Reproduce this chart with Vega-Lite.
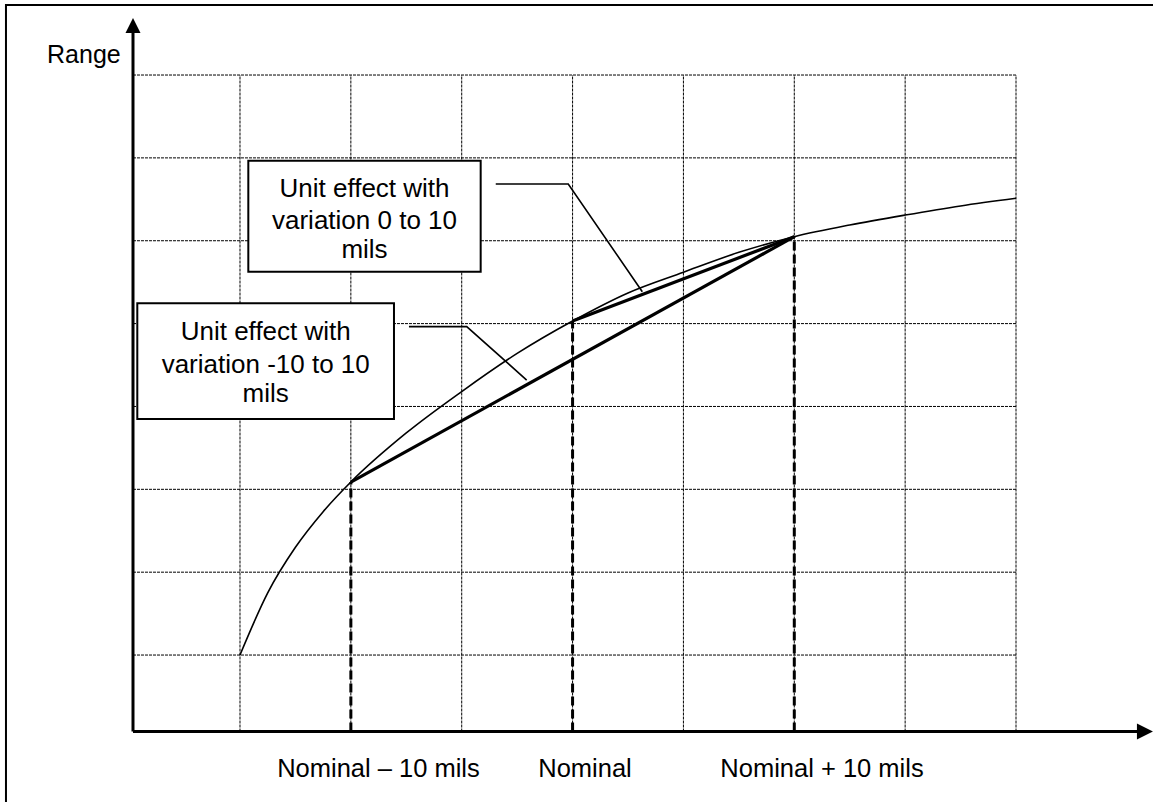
{
  "$schema": "https://vega.github.io/schema/vega-lite/v6.json",
  "width": 1153,
  "height": 802,
  "autosize": {"type": "none"},
  "padding": 0,
  "background": "white",
  "config": {"view": {"stroke": null}},
  "datasets": {
    "border": [{"x": -1.111, "y": 8.845, "x2": 10.5, "y2": -1.5}],
    "grid": [
      {"x": 1, "y": 0.077, "x2": 1, "y2": 8},
      {"x": 2, "y": 0.077, "x2": 2, "y2": 8},
      {"x": 3, "y": 0.077, "x2": 3, "y2": 8},
      {"x": 4, "y": 0.077, "x2": 4, "y2": 8},
      {"x": 5, "y": 0.077, "x2": 5, "y2": 8},
      {"x": 6, "y": 0.077, "x2": 6, "y2": 8},
      {"x": 7, "y": 0.077, "x2": 7, "y2": 8},
      {"x": 8, "y": 0.077, "x2": 8, "y2": 8},
      {"x": 0.0348, "y": 1, "x2": 8, "y2": 1},
      {"x": 0.0348, "y": 2, "x2": 8, "y2": 2},
      {"x": 0.0348, "y": 3, "x2": 8, "y2": 3},
      {"x": 0.0348, "y": 4, "x2": 8, "y2": 4},
      {"x": 0.0348, "y": 5, "x2": 8, "y2": 5},
      {"x": 0.0348, "y": 6, "x2": 8, "y2": 6},
      {"x": 0.0348, "y": 7, "x2": 8, "y2": 7},
      {"x": 0.0348, "y": 8, "x2": 8, "y2": 8}
    ],
    "boxes": [
      {"x": 1.075, "y": 6.966, "x2": 3.171, "y2": 5.626},
      {"x": 0.0736, "y": 5.245, "x2": 2.389, "y2": 3.849}
    ],
    "curve": [
      {"x": 1.0, "y": 1.0},
      {"x": 1.25, "y": 1.75},
      {"x": 1.5, "y": 2.3},
      {"x": 1.75, "y": 2.73},
      {"x": 2.0, "y": 3.088},
      {"x": 2.5, "y": 3.68},
      {"x": 3.0, "y": 4.18},
      {"x": 3.5, "y": 4.64},
      {"x": 4.0, "y": 5.031},
      {"x": 4.5, "y": 5.37},
      {"x": 5.0, "y": 5.62},
      {"x": 5.5, "y": 5.86},
      {"x": 6.0, "y": 6.049},
      {"x": 6.5, "y": 6.19},
      {"x": 7.0, "y": 6.31},
      {"x": 7.5, "y": 6.42},
      {"x": 8.0, "y": 6.512}
    ],
    "chords": [
      {"x": 2, "y": 3.088, "x2": 6, "y2": 6.049},
      {"x": 4, "y": 5.031, "x2": 6, "y2": 6.049}
    ],
    "drops": [
      {"x": 2, "y": 0.077, "x2": 2, "y2": 3.088},
      {"x": 4, "y": 0.077, "x2": 4, "y2": 5.031},
      {"x": 6, "y": 0.077, "x2": 6, "y2": 6.049}
    ],
    "leaders": [
      {"leader": "A", "i": 0, "x": 3.307, "y": 6.685},
      {"leader": "A", "i": 1, "x": 3.961, "y": 6.685},
      {"leader": "A", "i": 2, "x": 4.629, "y": 5.385},
      {"leader": "B", "i": 0, "x": 2.524, "y": 4.963},
      {"leader": "B", "i": 1, "x": 3.045, "y": 4.963},
      {"leader": "B", "i": 2, "x": 3.586, "y": 4.319}
    ],
    "axes": [
      {"x": 0.0348, "y": 0.077, "x2": 0.0348, "y2": 8.507},
      {"x": 0.0348, "y": 0.077, "x2": 9.109, "y2": 0.077}
    ],
    "arrowUp": [{"x": 0.0348, "y": 8.598}],
    "arrowRight": [{"x": 9.163, "y": 0.077}],
    "boxText": [
      {"x": 2.123, "y": 6.532, "text": "Unit effect with"},
      {"x": 2.123, "y": 6.142, "text": "variation 0 to 10"},
      {"x": 2.123, "y": 5.788, "text": "mils"},
      {"x": 1.232, "y": 4.802, "text": "Unit effect with"},
      {"x": 1.232, "y": 4.407, "text": "variation -10 to 10"},
      {"x": 1.232, "y": 4.057, "text": "mils"}
    ],
    "xLabels": [
      {"x": 2.249, "y": -0.472, "text": "Nominal – 10 mils"},
      {"x": 4.112, "y": -0.472, "text": "Nominal"},
      {"x": 6.25, "y": -0.472, "text": "Nominal + 10 mils"}
    ],
    "yLabel": [{"x": -0.076, "y": 8.149, "text": "Range"}]
  },
  "encoding": {
    "x": {"field": "x", "type": "quantitative", "scale": {"domain": [-1.1649, 9.2357], "nice": false, "zero": false}, "axis": null},
    "y": {"field": "y", "type": "quantitative", "scale": {"domain": [-0.7736, 8.9054], "nice": false, "zero": false}, "axis": null}
  },
  "layer": [
    {
      "data": {"name": "border"},
      "mark": {"type": "rect", "fillOpacity": 0, "stroke": "black", "strokeWidth": 2, "clip": true},
      "encoding": {"x2": {"field": "x2"}, "y2": {"field": "y2"}}
    },
    {
      "data": {"name": "grid"},
      "mark": {"type": "rule", "color": "black", "strokeWidth": 1, "strokeDash": [3, 1]},
      "encoding": {"x2": {"field": "x2"}, "y2": {"field": "y2"}}
    },
    {
      "data": {"name": "boxes"},
      "mark": {"type": "rect", "fill": "white", "stroke": "black", "strokeWidth": 2},
      "encoding": {"x2": {"field": "x2"}, "y2": {"field": "y2"}}
    },
    {
      "data": {"name": "curve"},
      "mark": {"type": "line", "color": "black", "strokeWidth": 1.6, "interpolate": "monotone"},
      "encoding": {}
    },
    {
      "data": {"name": "chords"},
      "mark": {"type": "rule", "color": "black", "strokeWidth": 3.2},
      "encoding": {"x2": {"field": "x2"}, "y2": {"field": "y2"}}
    },
    {
      "data": {"name": "drops"},
      "mark": {"type": "rule", "color": "black", "strokeWidth": 3, "strokeDash": [9, 4]},
      "encoding": {"x2": {"field": "x2"}, "y2": {"field": "y2"}}
    },
    {
      "data": {"name": "leaders"},
      "mark": {"type": "line", "color": "black", "strokeWidth": 1.6},
      "encoding": {"detail": {"field": "leader"}, "order": {"field": "i"}}
    },
    {
      "data": {"name": "axes"},
      "mark": {"type": "rule", "color": "black", "strokeWidth": 3},
      "encoding": {"x2": {"field": "x2"}, "y2": {"field": "y2"}}
    },
    {
      "data": {"name": "arrowUp"},
      "mark": {"type": "point", "shape": "M0,-1L1,1L-1,1Z", "size": 225, "filled": true, "color": "black", "opacity": 1}
    },
    {
      "data": {"name": "arrowRight"},
      "mark": {"type": "point", "shape": "M1,0L-1,1L-1,-1Z", "size": 256, "filled": true, "color": "black", "opacity": 1}
    },
    {
      "data": {"name": "boxText"},
      "mark": {"type": "text", "font": "Liberation Sans", "fontSize": 26, "align": "center", "baseline": "alphabetic", "color": "black"},
      "encoding": {"text": {"field": "text"}}
    },
    {
      "data": {"name": "xLabels"},
      "mark": {"type": "text", "font": "Liberation Sans", "fontSize": 25.5, "align": "center", "baseline": "alphabetic", "color": "black"},
      "encoding": {"text": {"field": "text"}}
    },
    {
      "data": {"name": "yLabel"},
      "mark": {"type": "text", "font": "Liberation Sans", "fontSize": 25, "align": "right", "baseline": "alphabetic", "color": "black"},
      "encoding": {"text": {"field": "text"}}
    }
  ]
}
